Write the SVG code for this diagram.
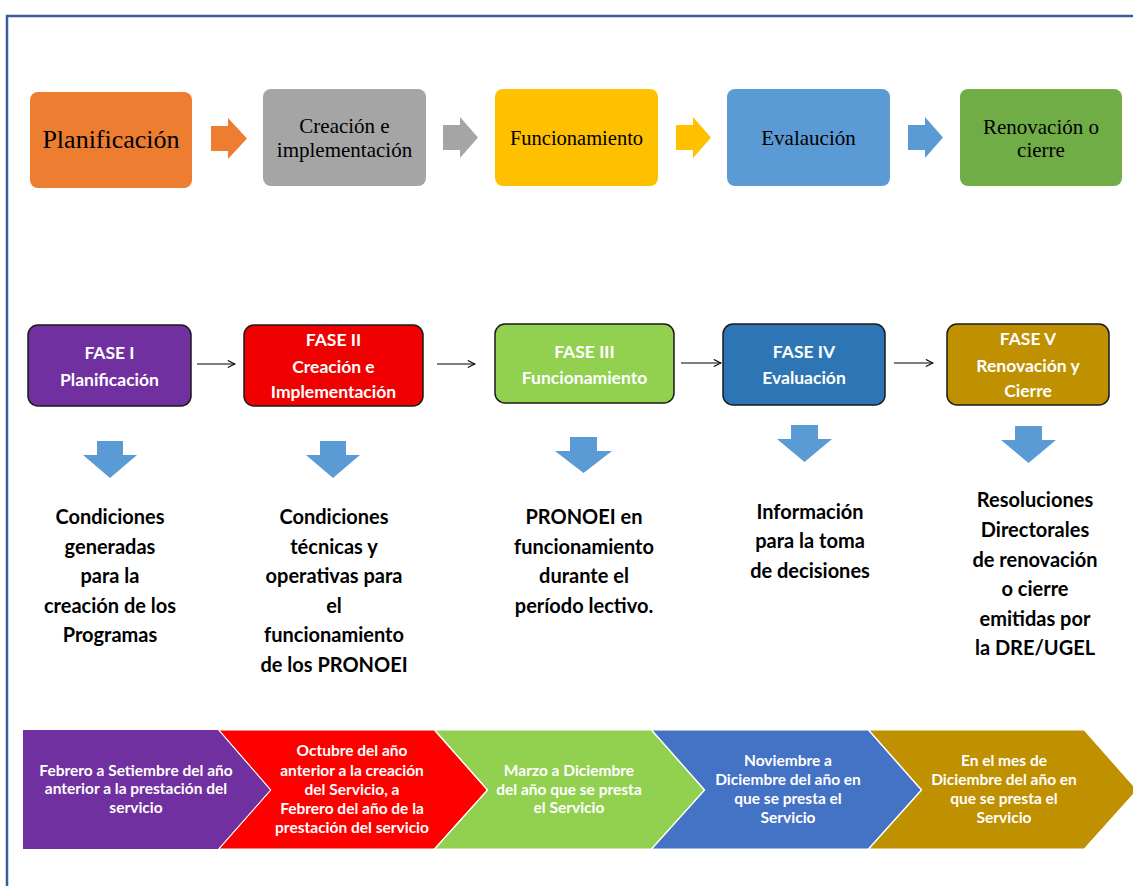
<svg xmlns="http://www.w3.org/2000/svg" width="1133" height="886" viewBox="0 0 1133 886">
<style>
.serif{font-family:"Liberation Serif","Times New Roman",serif;fill:#000;text-anchor:middle}
.ph{font-family:Lato,"Open Sans",sans-serif;fill:#fff;font-size:17.5px;font-weight:bold;text-anchor:middle}
.out{font-family:Lato,"Open Sans",sans-serif;fill:#000;font-size:20px;font-weight:bold;text-anchor:middle}
.chv{font-family:Lato,"Open Sans",sans-serif;fill:#fff;font-size:15.5px;font-weight:bold;text-anchor:middle}
.pbox{stroke:#1a1a1a;stroke-width:1.5}
.conn{stroke:#000;stroke-width:1.2;fill:none}
.down{fill:#5B9BD5}
</style>
<defs>
<marker id="ah" viewBox="0 0 10 10" refX="9" refY="5" markerWidth="9" markerHeight="9" markerUnits="userSpaceOnUse" orient="auto">
<path d="M1,1 L9,5 L1,9" fill="none" stroke="#000" stroke-width="1.2"/>
</marker>
</defs>
<rect width="1133" height="886" fill="#fff"/>
<path d="M7,886 L7,16 L1133,16" fill="none" stroke="#3E5C99" stroke-width="2.5"/>

<g id="top-planificacion"><rect x="30" y="92" width="162" height="96" rx="8" fill="#ED7D31"/><text class="serif" x="111" y="148" font-size="26">Planificación</text></g>
<g id="top-creacion"><rect x="263" y="89" width="163" height="97" rx="8" fill="#A5A5A5"/><text class="serif" x="344.5" y="133" font-size="21">Creación e</text><text class="serif" x="344.5" y="157" font-size="21">implementación</text></g>
<g id="top-funcionamiento"><rect x="495" y="89" width="163" height="97" rx="8" fill="#FFC000"/><text class="serif" x="576.5" y="145" font-size="20.5">Funcionamiento</text></g>
<g id="top-evaluacion"><rect x="727" y="89" width="163" height="97" rx="8" fill="#5B9BD5"/><text class="serif" x="808.5" y="145" font-size="21">Evalaución</text></g>
<g id="top-renovacion"><rect x="960" y="89" width="162" height="97" rx="8" fill="#70AD47"/><text class="serif" x="1041" y="134" font-size="21">Renovación o</text><text class="serif" x="1041" y="157" font-size="21">cierre</text></g>

<g id="connectors">
<path d="M211,126 H228 V118 L247,138.5 L228,159 V151 H211 Z" fill="#ED7D31"/>
<path d="M443,125 H460 V117 L478,137.5 L460,158 V150 H443 Z" fill="#A5A5A5"/>
<path d="M676,125 H693 V117 L711,137.5 L693,158 V150 H676 Z" fill="#FFC000"/>
<path d="M908,125 H925 V117 L943,137.5 L925,158 V150 H908 Z" fill="#5B9BD5"/>
<line class="conn" x1="197" y1="364" x2="235" y2="364" marker-end="url(#ah)"/>
<line class="conn" x1="437" y1="364" x2="475" y2="364" marker-end="url(#ah)"/>
<line class="conn" x1="681" y1="363" x2="721" y2="363" marker-end="url(#ah)"/>
<line class="conn" x1="894" y1="363" x2="933" y2="363" marker-end="url(#ah)"/>
<path class="down" d="M97,441 H123 V455 H137 L110,478 L83,455 H97 Z"/>
<path class="down" d="M320,441 H346 V455 H360 L333,478 L306,455 H320 Z"/>
<path class="down" d="M570,437 H597 V451 H612 L583.5,473 L555,451 H570 Z"/>
<path class="down" d="M791,425 H818 V439 H832 L804.5,462 L777,439 H791 Z"/>
<path class="down" d="M1015,426 H1042 V440 H1056 L1028.5,463 L1001,440 H1015 Z"/>
</g>

<g id="fase1"><rect class="pbox" x="28" y="325" width="163" height="81" rx="10" fill="#7030A0"/><text class="ph" x="109.5" y="359">FASE I</text><text class="ph" x="109.5" y="386">Planificación</text></g>
<g id="fase2"><rect class="pbox" x="244" y="325" width="179" height="81" rx="10" fill="#F00000"/><text class="ph" x="333.5" y="346">FASE II</text><text class="ph" x="333.5" y="373">Creación e</text><text class="ph" x="333.5" y="398">Implementación</text></g>
<g id="fase3"><rect class="pbox" x="495" y="324" width="179" height="79" rx="10" fill="#92D050"/><text class="ph" x="584.5" y="358">FASE III</text><text class="ph" x="584.5" y="384">Funcionamiento</text></g>
<g id="fase4"><rect class="pbox" x="723" y="324" width="162" height="81" rx="10" fill="#2E75B6"/><text class="ph" x="804" y="358">FASE IV</text><text class="ph" x="804" y="384">Evaluación</text></g>
<g id="fase5"><rect class="pbox" x="947" y="324" width="162" height="81" rx="10" fill="#BF9000"/><text class="ph" x="1028" y="345">FASE V</text><text class="ph" x="1028" y="372">Renovación y</text><text class="ph" x="1028" y="397">Cierre</text></g>

<g id="out1" class="out"><text x="110" y="524">Condiciones</text><text x="110" y="554">generadas</text><text x="110" y="583">para la</text><text x="110" y="613">creación de los</text><text x="110" y="642">Programas</text></g>
<g id="out2" class="out"><text x="334" y="524">Condiciones</text><text x="334" y="554">técnicas y</text><text x="334" y="583">operativas para</text><text x="334" y="613">el</text><text x="334" y="642">funcionamiento</text><text x="334" y="672">de los PRONOEI</text></g>
<g id="out3" class="out"><text x="584" y="524">PRONOEI en</text><text x="584" y="554">funcionamiento</text><text x="584" y="583">durante el</text><text x="584" y="613">período lectivo.</text></g>
<g id="out4" class="out"><text x="810" y="519">Información</text><text x="810" y="548">para la toma</text><text x="810" y="578">de decisiones</text></g>
<g id="out5" class="out"><text x="1035" y="507">Resoluciones</text><text x="1035" y="537">Directorales</text><text x="1035" y="567">de renovación</text><text x="1035" y="596">o cierre</text><text x="1035" y="626">emitidas por</text><text x="1035" y="655">la DRE/UGEL</text></g>

<g id="chev1"><path d="M23,730 H218 L270,790 L218,849 H23 Z" fill="#7030A0"/><text class="chv" x="136" y="776">Febrero a Setiembre del año</text><text class="chv" x="136" y="794">anterior a la prestación del</text><text class="chv" x="136" y="813">servicio</text></g>
<g id="chev2"><path d="M219,730 H434 L487,790 L434,849 H219 L271,790 Z" fill="#FF0000" stroke="#fff" stroke-width="1"/><text class="chv" x="352" y="756">Octubre del año</text><text class="chv" x="352" y="776">anterior a la creación</text><text class="chv" x="352" y="795">del Servicio, a</text><text class="chv" x="352" y="814">Febrero del año de la</text><text class="chv" x="352" y="833">prestación del servicio</text></g>
<g id="chev3"><path d="M435,730 H651 L704,790 L651,849 H435 L488,790 Z" fill="#92D050" stroke="#fff" stroke-width="1"/><text class="chv" x="569" y="776">Marzo a Diciembre</text><text class="chv" x="569" y="795">del año que se presta</text><text class="chv" x="569" y="813">el Servicio</text></g>
<g id="chev4"><path d="M652,730 H868 L921,790 L868,849 H652 L705,790 Z" fill="#4472C4" stroke="#fff" stroke-width="1"/><text class="chv" x="788" y="766">Noviembre a</text><text class="chv" x="788" y="785">Diciembre del año en</text><text class="chv" x="788" y="804">que se presta el</text><text class="chv" x="788" y="823">Servicio</text></g>
<g id="chev5"><path d="M869,730 H1084 L1137,790 L1084,849 H869 L922,790 Z" fill="#BF9000" stroke="#fff" stroke-width="1"/><text class="chv" x="1004" y="766">En el mes de</text><text class="chv" x="1004" y="785">Diciembre del año en</text><text class="chv" x="1004" y="804">que se presta el</text><text class="chv" x="1004" y="823">Servicio</text></g>
</svg>
